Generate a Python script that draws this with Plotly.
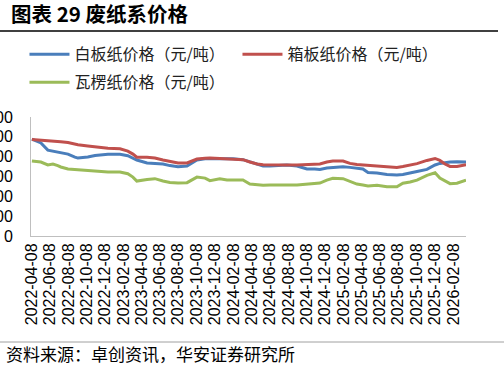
import plotly.graph_objects as go

# ---- data ----
dates = [
    "2022-04-08", "2022-05-08", "2022-05-31", "2022-06-17", "2022-07-03", "2022-07-13",
    "2022-08-06", "2022-08-29", "2022-09-08", "2022-10-11", "2022-11-04", "2022-12-17",
    "2023-01-26", "2023-02-21", "2023-03-10", "2023-03-23", "2023-04-26", "2023-05-22",
    "2023-06-18", "2023-07-11", "2023-08-07", "2023-09-06", "2023-10-09", "2023-11-05",
    "2023-11-21", "2023-12-24", "2024-01-17", "2024-02-06", "2024-03-10", "2024-04-02",
    "2024-04-26", "2024-05-16", "2024-06-08", "2024-07-11", "2024-08-03", "2024-09-06",
    "2024-10-09", "2024-11-04", "2024-11-21", "2024-12-14", "2025-01-03", "2025-02-06",
    "2025-03-01", "2025-03-24", "2025-04-13", "2025-04-30", "2025-05-30", "2025-07-02",
    "2025-08-04", "2025-08-24", "2025-09-17", "2025-10-10", "2025-11-12", "2025-12-09",
    "2025-12-25", "2026-01-11", "2026-01-28", "2026-02-20", "2026-03-22",
]

baiban = [  # 白板纸价格（元/吨）
    4890, 4690, 4330, 4280, 4250, 4230, 4130, 3980, 3930, 3980, 4060, 4120,
    4120, 4050, 3930, 3830, 3680, 3650, 3630, 3550, 3490, 3530, 3830, 3900,
    3910, 3900, 3900, 3900, 3850, 3730, 3630, 3530, 3530, 3550, 3580, 3530,
    3380, 3380, 3350, 3430, 3460, 3490, 3460, 3430, 3380, 3200, 3180, 3100,
    3070, 3100, 3160, 3250, 3360, 3580, 3660, 3700, 3730, 3740, 3730,
]

xiangban = [  # 箱板纸价格（元/吨）
    4870, 4840, 4810, 4790, 4760, 4750, 4710, 4640, 4600, 4540, 4500, 4420,
    4400, 4280, 4130, 3970, 3970, 3930, 3830, 3750, 3680, 3680, 3880, 3920,
    3930, 3910, 3880, 3880, 3850, 3730, 3630, 3590, 3580, 3580, 3580, 3580,
    3600, 3610, 3630, 3730, 3780, 3780, 3660, 3600, 3580, 3530, 3530, 3480,
    3460, 3500, 3580, 3650, 3810, 3910, 3810, 3630, 3510, 3510, 3600,
]

waleng = [  # 瓦楞纸价格（元/吨）
    3780, 3730, 3580, 3630, 3550, 3480, 3380, 3350, 3330, 3300, 3280, 3230,
    3230, 3140, 2970, 2770, 2850, 2890, 2770, 2700, 2670, 2690, 2970, 2920,
    2790, 2890, 2820, 2820, 2820, 2620, 2570, 2560, 2570, 2590, 2570, 2570,
    2600, 2650, 2670, 2820, 2910, 2890, 2760, 2620, 2570, 2520, 2560, 2480,
    2480, 2660, 2720, 2820, 3060, 3190, 2920, 2770, 2640, 2660, 2820,
]

tick_vals = [
    "2022-04-08", "2022-06-08", "2022-08-08", "2022-10-08", "2022-12-08",
    "2023-02-08", "2023-04-08", "2023-06-08", "2023-08-08", "2023-10-08", "2023-12-08",
    "2024-02-08", "2024-04-08", "2024-06-08", "2024-08-08", "2024-10-08", "2024-12-08",
    "2025-02-08", "2025-04-08", "2025-06-08", "2025-08-08", "2025-10-08", "2025-12-08",
    "2026-02-08",
]
y_ticks = [0, 1000, 2000, 3000, 4000, 5000, 6000]

series_names = ["白板纸价格（元/吨）", "箱板纸价格（元/吨）", "瓦楞纸价格（元/吨）"]
colors = ["#4A7EBB", "#C0504D", "#9BBB59"]

W, H = 504, 368
L, R, T, B = 31, 38, 117, 132
PW, PH = W - L - R, H - T - B

fig = go.Figure()
for name, vals, col, lg in zip(series_names, [baiban, xiangban, waleng], colors,
                               ["legend", "legend", "legend2"]):
    fig.add_trace(go.Scatter(
        x=dates, y=vals, mode="lines", name=name,
        line=dict(color=col, width=3), legend=lg,
    ))

cjk = "Noto Sans CJK SC"
fig.update_layout(
    width=W, height=H,
    margin=dict(l=L, r=R, t=T, b=B, autoexpand=False),
    paper_bgcolor="white", plot_bgcolor="white",
    title=dict(
        text="<b>图表 29 废纸系价格</b>", font=dict(family=cjk, size=20.5, color="black"),
        xref="container", x=0.022, xanchor="left",
        yref="container", y=1 - 15 / H, yanchor="middle",
    ),
    legend=dict(
        orientation="h", x=-0.015, xanchor="left", y=1.67, yanchor="top",
        font=dict(family=cjk, size=16, color="#222222"),
        entrywidth=158, entrywidthmode="pixels", itemwidth=40,
        bgcolor="rgba(0,0,0,0)", traceorder="normal",
    ),
    legend2=dict(
        orientation="h", x=-0.015, xanchor="left", y=1.435, yanchor="top",
        font=dict(family=cjk, size=16, color="#222222"),
        itemwidth=40, bgcolor="rgba(0,0,0,0)",
    ),
    showlegend=True,
    xaxis=dict(
        type="date", range=["2022-04-05", "2026-03-22"],
        tickmode="array", tickvals=tick_vals, ticktext=tick_vals,
        tickangle=-90, showgrid=False, zeroline=False,
        showline=True, linecolor="#BFBFBF", linewidth=1,
        ticks="", tickfont=dict(family="Liberation Sans", size=16, color="black"),
        automargin=False,
    ),
    yaxis=dict(
        range=[0, 6000], tickmode="array", tickvals=y_ticks,
        ticktext=[str(v) for v in y_ticks],
        showgrid=False, zeroline=False,
        showline=True, linecolor="#BFBFBF", linewidth=1,
        ticks="", ticklabelstandoff=14,
        tickfont=dict(family="Liberation Sans", size=16, color="black"),
        automargin=False,
    ),
    shapes=[
        dict(type="line", xref="paper", yref="paper",
             x0=-L / PW, x1=(W - L - 6) / PW,
             y0=(H - B - 31) / PH, y1=(H - B - 31) / PH,
             line=dict(color="black", width=1.5)),
        dict(type="line", xref="paper", yref="paper",
             x0=-L / PW, x1=(W - L) / PW,
             y0=-(342 - (H - B)) / PH, y1=-(342 - (H - B)) / PH,
             line=dict(color="#A0A0A0", width=1)),
    ],
    annotations=[
        dict(text="资料来源：卓创资讯，华安证券研究所", xref="paper", yref="paper",
             x=(4 - L) / PW, xanchor="left",
             y=-(353 - (H - B)) / PH, yanchor="middle",
             showarrow=False, font=dict(family=cjk, size=17, color="black")),
    ],
)

fig.write_html("out.html")
